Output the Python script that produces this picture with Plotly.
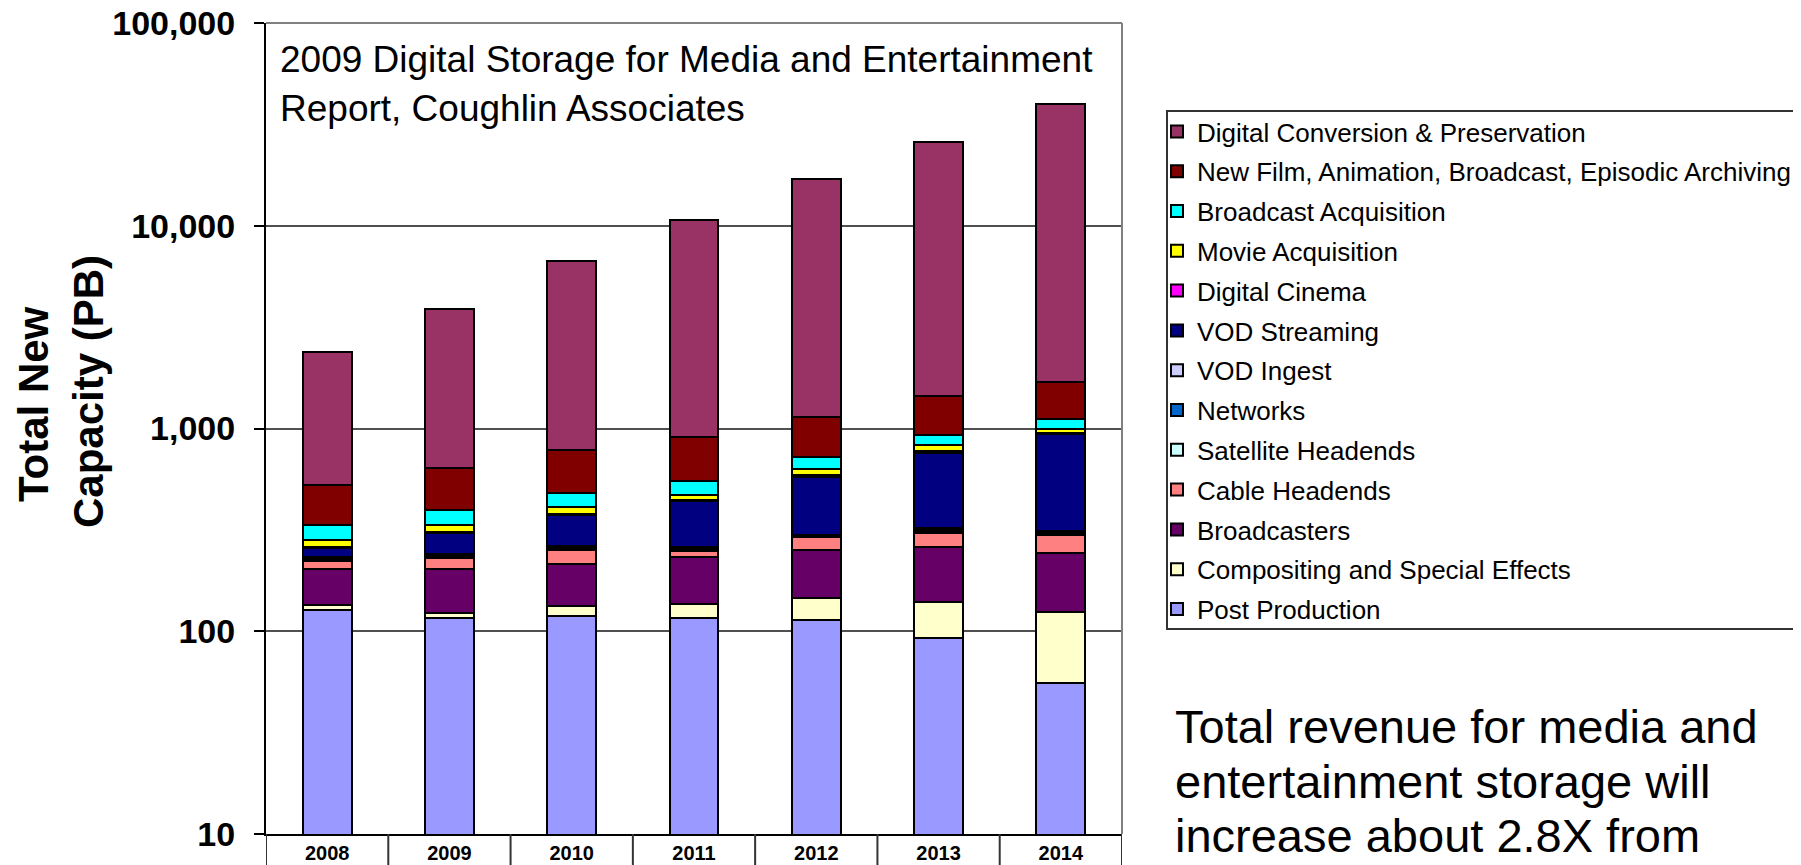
import plotly.graph_objects as go

# ---------------- data ----------------
years = ["2008", "2009", "2010", "2011", "2012", "2013", "2014"]

post_production        = [127, 115.6, 118.8, 115.6, 113.4, 92.6, 55.3]
compositing_effects    = [7.7, 8, 15, 21, 32, 47, 69]
broadcasters           = [69, 79, 82, 95, 106, 122, 118]
cable_headends         = [19, 26, 35, 18.5, 39, 43, 55]
satellite_headends     = [4, 5, 5, 4, 3, 6, 5]
networks               = [3, 3, 4, 3, 3, 5, 5]
vod_ingest             = [4, 5, 5, 4.5, 3, 7, 6]
vod_streaming          = [25, 62, 109, 179, 278, 437, 630]
digital_cinema         = [2, 4, 5, 5, 10, 15, 10]
movie_acquisition      = [20, 27, 33, 22, 46, 55, 42]
broadcast_acquisition  = [54, 63, 70, 81, 88, 100, 117]
new_film_archiving     = [191, 242, 301, 361, 424, 515, 580]
digital_conversion     = [1860, 3225, 5914, 9761, 15841, 24436, 38303]

series_names = [
    "Post Production",
    "Compositing and Special Effects",
    "Broadcasters",
    "Cable Headends",
    "Satellite Headends",
    "Networks",
    "VOD Ingest",
    "VOD Streaming",
    "Digital Cinema",
    "Movie Acquisition",
    "Broadcast Acquisition",
    "New Film, Animation, Broadcast, Episodic Archiving",
    "Digital Conversion & Preservation",
]
series_values = [
    post_production, compositing_effects, broadcasters, cable_headends,
    satellite_headends, networks, vod_ingest, vod_streaming, digital_cinema,
    movie_acquisition, broadcast_acquisition, new_film_archiving, digital_conversion,
]
series_colors = [
    "#9999FF", "#FFFFCC", "#660066", "#FF8080", "#CCFFFF", "#0066CC",
    "#CCCCFF", "#000080", "#FF00FF", "#FFFF00", "#00FFFF", "#800000", "#993366",
]

y_tickvals = [10, 100, 1000, 10000, 100000]
y_ticktext = ["10", "100", "1,000", "10,000", "100,000"]

title_lines = ["2009 Digital Storage for Media and Entertainment",
               "Report, Coughlin Associates"]
ytitle_lines = ["Total New", "Capacity (PB)"]
note_lines = ["Total revenue for media and",
              "entertainment storage will",
              "increase about 2.8X from"]

# ---------------- layout geometry (figure pixels; page adds an 8px body margin) ----------------
W, H = 1793, 857
L, R, T, B = 258, 1114, 15, 826
FONT = "Arial, Liberation Sans, sans-serif"


def px(x):
    return (x - L) / (R - L)


def py(y):
    return (B - y) / (B - T)


fig = go.Figure()
n = len(series_names)
for i, (name, vals, col) in enumerate(zip(series_names, series_values, series_colors)):
    fig.add_trace(go.Bar(
        x=years, y=vals, name=name, legendgroup=name, legendrank=100 + (n - i),
        marker=dict(color=col, line=dict(color="black", width=2)),
    ))

annotations = []
for line, yc in zip(title_lines, [51, 100]):
    annotations.append(dict(
        text=line, xref="paper", yref="paper", x=px(270), y=py(yc),
        xanchor="left", yanchor="middle", showarrow=False,
        font=dict(family=FONT, size=37, color="black")))

for line, xc, yc in zip(ytitle_lines, [25, 80], [396, 384]):
    annotations.append(dict(
        text=line, xref="paper", yref="paper", x=px(xc), y=py(yc),
        xanchor="center", yanchor="middle", showarrow=False, textangle=-90,
        font=dict(family=FONT, size=42, color="black", weight="bold")))

for line, yc in zip(note_lines, [718, 773, 827]):
    annotations.append(dict(
        text=line, xref="paper", yref="paper", x=px(1165), y=py(yc),
        xanchor="left", yanchor="middle", showarrow=False,
        font=dict(family=FONT, size=47, color="black")))

shapes = []
# category separators below the axis
for i in range(len(years) + 1):
    shapes.append(dict(type="line", xref="x", yref="paper",
                       x0=i - 0.5, x1=i - 0.5, y0=0, y1=py(H + 2),
                       line=dict(color="#333333", width=2)))
# top & right frame (gray)
shapes.append(dict(type="line", xref="paper", yref="paper", x0=0, x1=1, y0=1, y1=1,
                   line=dict(color="#808080", width=2)))
shapes.append(dict(type="line", xref="paper", yref="paper", x0=1, x1=1, y0=0, y1=1,
                   line=dict(color="#808080", width=2)))
# legend box
shapes.append(dict(type="rect", xref="paper", yref="paper",
                   x0=px(1159), x1=px(W + 10), y0=py(621), y1=py(103),
                   line=dict(color="#333333", width=2), fillcolor="rgba(0,0,0,0)"))

fig.update_layout(
    width=W, height=H,
    margin=dict(l=L, r=W - R, t=T, b=H - B, pad=0, autoexpand=False),
    paper_bgcolor="white", plot_bgcolor="white",
    barmode="stack", bargap=0.6,
    font=dict(family=FONT, color="black"),
    showlegend=True,
    legend=dict(
        x=px(1149), y=py(100), xanchor="left", yanchor="top",
        traceorder="grouped", tracegroupgap=3,
        font=dict(family=FONT, size=26, color="black"),
        bgcolor="rgba(0,0,0,0)", borderwidth=0,
    ),
    xaxis=dict(
        type="category", range=[-0.5, len(years) - 0.5], automargin=False,
        showline=True, linecolor="black", linewidth=2,
        ticks="", showgrid=False, zeroline=False,
        tickfont=dict(family=FONT, size=20, color="black", weight="bold"),
        ticklabelstandoff=0, ticklabeloverflow="allow",
    ),
    yaxis=dict(
        type="log", range=[1, 5], automargin=False,
        tickvals=y_tickvals, ticktext=y_ticktext,
        showline=True, linecolor="black", linewidth=2,
        ticks="outside", ticklen=10, tickwidth=2, tickcolor="black",
        showgrid=True, gridcolor="#505050", gridwidth=1.5, zeroline=False,
        tickfont=dict(family=FONT, size=34, color="black", weight="bold"),
        ticklabelstandoff=12, ticklabeloverflow="allow",
    ),
    annotations=annotations,
    shapes=shapes,
)

fig.write_html("out.html")
